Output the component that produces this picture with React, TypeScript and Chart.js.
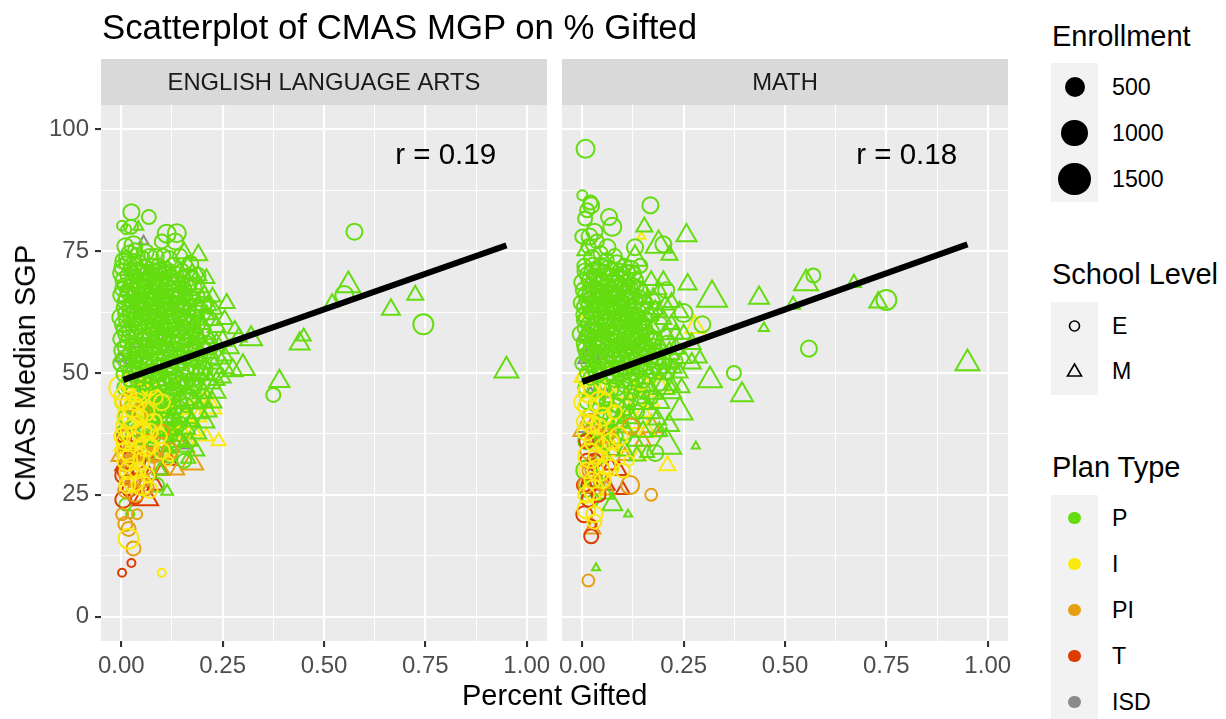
import React, { useEffect, useRef } from "react";
import { Chart, registerables } from "chart.js";

Chart.register(...registerables);

type Row = number[]; // [percent gifted, median SGP, enrollment]

const xTicks = [0, 0.125, 0.25, 0.375, 0.5, 0.625, 0.75, 0.875, 1];
const yTicks = [0, 12.5, 25, 37.5, 50, 62.5, 75, 87.5, 100];
const xMajor = [0, 0.25, 0.5, 0.75, 1];
const yMajor = [0, 25, 50, 75, 100];
const panelNames = ["ENGLISH LANGUAGE ARTS", "MATH"];
const correlations = ["r = 0.19", "r = 0.18"];
const enrollmentLegend = [500, 1000, 1500];
const planNames = ["P", "I", "PI", "T", "ISD"];
const elaFit = [[0.005, 48.6], [0.95, 76.2]];
const mathFit = [[0, 48.2], [0.95, 76.4]];

const elaGreenCircHigh: Row[] = [
[.025,83,300],[.068,82,220],[.002,80.2,100],[.024,80,220],[.012,79.5,100],[.112,78.6,390],[.137,78.7,390],[.1,77,220],[.133,77,300],[.01,76,300],[.03,76.2,390],[.034,75.2,220],[.02,74.5,300],[.06,74.8,300],[.07,73.6,390],[.104,74,220],[.118,73.4,300],[.145,74,220],[.17,72.4,300],[.005,73,300],
[.012,72.5,220],[.028,72,390],[.045,72.8,220],[.058,71.6,300],[.078,72,220],[.092,71.8,300],[.11,71.4,220],[.128,72,300],[.15,71,220],[.188,70,300],[.165,69.6,390],[.002,70.5,390],[.018,70,300],[.036,69.8,220],[.05,70.4,300],[.066,69.4,220],[.085,69.8,390],[.1,69.2,220],[.12,69.6,300],[.138,68.8,300],
[.178,67.6,300],[.155,67.4,220],[.008,68,220],[.025,67.6,300],[.042,67.2,220],[.058,67.8,300],[.074,67,300],[.092,67.4,220],[.108,66.8,300],[.128,66.6,220],[.146,66,390],[.168,65.4,300],[.188,65.8,220],[0,66,300],[.016,65.4,390],[.032,65.8,220],[.048,65,300],[.064,65.2,220],[.082,64.8,300],[.098,65,220],
[.118,64.4,300],[.136,64,300],[.156,63.6,220],[.178,63.4,390],[.202,64,300],[.006,63.4,220],[.022,63,300],[.04,63.2,220],[.056,62.8,300],[.072,62.6,220],[.09,62.4,300],[.106,62.6,220],[.126,62,300],[.146,61.8,220],[.166,61.4,300],[.188,61,220],[0,61.4,390],[.014,61,300],[.03,60.8,220],[.046,60.6,300],
[.062,60.4,220],[.08,60.2,300],[.098,60,220],[.114,60.4,300],[.134,59.6,300],[.154,59.4,220],[.176,59,300],[.198,58.8,390],[.006,59,220],[.022,58.6,300],[.038,58.4,220],[.054,58.2,300],[.07,58,220],[.088,57.8,300],[.106,57.6,220],[.124,57.4,300],[.144,57,390],[.164,56.8,220],[.186,56.6,300],[.21,56,300],
[0,57,300],[.014,56.4,220],[.03,56,300],[.046,55.8,220],[.062,55.6,300],[.08,55.2,220],[.096,55.4,300],[.114,55,220],[.132,54.8,300],[.152,54.4,220],[.174,54.2,300],[.196,53.8,220],[.005,54.6,390],[.022,54,220],[.038,53.6,300],[.054,53.4,220],[.072,53,300],[.09,52.8,220],[.106,52.6,300],[.124,52.4,220],
[.142,52,300],[.162,51.6,390],[.184,51.2,300],[.208,50.8,220],[.232,50,300],[0,52,300],[.014,51.6,220],[.03,51,220],[.046,50.8,300],[.064,50.4,220],[.082,50.2,300],[.098,49.8,220],[.116,49.6,300],[.134,49.2,220],[.154,49,300],[.176,48.6,220],[.2,48.2,300],[.022,48.8,300],[.04,48.4,220],[.056,48.2,300],
[.074,48,220],[.09,48.6,300],[.108,48,220],[.126,48.2,300],[.012,73.6,220],[.038,74,300],[.052,73.6,220],[.085,73.8,300],[.035,70.8,390],[.072,70,300],[.105,70.6,220],[.045,68,300],[.083,68.4,220],[.115,67.8,300],[.15,68.4,220],[.015,67,220],[.065,66.2,300],[.095,66,220],[.135,65.2,220],[.04,64.4,300],
[.075,63.8,220],[.115,63,220],[.055,63.6,220],[.095,63.4,300],[.15,62.6,300],[.02,62,220],[.055,61.4,300],[.085,61,220],[.125,60.8,220],[.16,60.2,300],[.04,59.6,300],[.078,59,220],[.112,58.8,220],[.145,58.6,220],[.012,58,300],[.05,57,220],[.09,56.6,220],[.128,56,300],[.17,57.6,220],[.035,55,220],
[.07,54.6,220],[.105,54,220],[.145,53.4,220],[.055,52,300],[.095,51.4,300],[.125,51,220],[.17,50.4,300],[.038,49.6,300],[.075,49.2,220],[.145,47.8,300],[.19,46.8,300],
[.003,71.7,300],[.022,71.2,220],[.041,71,300],[.064,70.7,220],[.082,70.9,300],[.096,70.3,220],[.117,70.8,220],[.134,70.2,300],[.152,69.5,220],[.008,69,390],[.027,68.8,300],[.054,68.9,220],[.077,68.7,220],[.094,68.3,300],[.109,68,220],[.127,68.2,220],[.143,67.3,300],[.164,67.9,220],[.002,67.2,220],[.019,66.5,300],
[.036,66.7,300],[.053,66.4,220],[.07,66,220],[.088,66.3,300],[.103,65.8,220],[.122,65.6,300],[.14,65.4,220],[.159,65.9,220],[.178,65.3,220],[.008,64.6,220],[.026,64.6,220],[.044,64.2,220],[.061,64.4,220],[.079,64.1,220],[.105,64,300],[.125,63.4,220],[.145,63.1,300],[.165,62.9,220],[.188,62.4,220],[.012,62.2,300],
[.03,62.3,220],[.048,62,300],[.066,61.7,300],[.1,61.6,220],[.118,61.4,220],[.137,61,300],[.155,61.2,220],[.178,60.5,220],[.004,60,300],[.024,60,220],[.05,59.8,220],[.068,59.4,300],[.09,59.2,220],[.106,59.3,300],[.128,58.9,220],[.16,58.4,220],[.185,58,220],[.018,57.4,220],[.034,57.4,220],[.06,56.9,300],
[.078,56.5,220],[.102,56.3,300],[.116,56.7,220],[.138,55.9,220],[.158,55.6,300],[.18,55.4,220],[.202,55,220],[.008,55.4,220],[.042,54.8,300],[.06,54.6,220],[.085,54.2,300],[.122,53.9,220],[.135,53.4,300],[.16,53,220],[.18,52.8,300],[.008,53,300],[.028,52.6,300],[.046,52.2,220],[.065,51.8,220],[.08,51.6,300],
[.115,51.2,300],[.15,50.6,220],[.195,50,300],[.008,49.8,300],[.02,50.2,220],[.06,49.5,300],[.09,49.6,220],[.105,49,300],[.12,48.6,220],[.16,47.8,220],[.178,47,300],[.035,52.4,220],[.11,57.2,220],[.068,62,220],[.092,63.6,220],[.072,65,220],[.11,66,220],[.06,69,220],[.044,66,220],[.1,58,220]
];
const elaGreenCircLow: Row[] = [
[.01,47,300],[.028,46,220],[.045,45.4,300],[.064,46.4,220],[.085,45.6,300],[.104,46,220],[.125,45.2,300],[.145,44.6,220],[.168,45,300],[.375,45.5,220],[.005,44,300],[.025,43,220],[.05,42.6,300],[.075,43.4,220],[.098,42.4,300],[.12,42.8,220],[.15,41.6,300],[.01,41,220],[.035,40,300],[.06,39.8,220],
[.085,40.6,220],[.11,39.4,300],[.135,38.6,220],[.007,38,220],[.03,37,300],[.055,36.6,220],[.08,37,220],[.105,36,220],[.13,35,220],[.045,34,300],[.07,33.6,220],[.155,32,220],[.088,27,220],[.01,23,150],[.022,21,60],[.575,79,300],[.55,66,390],[.745,60,500],[.022,33,220],[.12,33,220],
[.018,47.4,300],[.055,47,220],[.072,45.2,300],[.095,47.2,220],[.115,44,300],[.135,46.6,220],[.16,43.4,220],[.038,44,300],[.062,44,220],[.09,44,220],[.108,41,300],[.128,40.4,220],[.145,39.6,220],[.04,38.4,220],[.07,38.6,220],[.095,38.4,220],[.12,37,220],[.14,36.4,220],[.11,47.6,300],[.13,43,300]
];
const elaGreenTriHigh: Row[] = [
[.042,80,100],[.155,74.6,390],[.19,74.2,390],[.165,72,300],[.19,70,300],[.21,69.4,300],[.17,68,220],[.205,66,300],[.225,65.6,300],[.26,64.3,300],[.23,63,220],[.21,62,300],[.255,61,300],[.235,59.5,390],[.28,59,220],[.32,57,620],[.29,57.4,300],[.25,56.6,390],[.22,57,220],[.27,55,300],[.44,56,500],[.45,57.5,220],[.3,51,760],[.275,50.5,500],[.24,53,390],[.255,51,390],[.22,54,300],[.39,48.3,500],[.56,68,760],[.52,64.5,220],[.665,63,390],[.725,66,300],[.95,50.5,760],[.2,52,390],[.18,55,300],[.235,48.5,300],[.21,49.5,300],[.12,60,300],[.15,64,300],
[.175,70.5,300],[.195,67.5,300],[.215,63.8,300],[.19,64,390],[.2,60,300],[.225,60.8,300],[.21,58,390],[.195,57,300],[.235,56.2,300],[.205,55,390],[.255,53.5,300],[.225,52,390],[.19,50,390],[.175,52.5,300],[.22,48,500],[.25,49,300],[.16,57,390],[.18,59.5,300],[.14,52,300]
];
const elaGreenTriLow: Row[] = [
[.2,46,500],[.225,44,390],[.17,47,500],[.145,44,620],[.19,42,620],[.215,42,300],[.175,40,300],[.16,38.6,390],[.13,40.6,500],[.19,37.5,300],[.17,36,300],[.14,36,500],[.1,38,300],[.113,25.7,150],[.095,30,220],[.07,41,390],
[.235,46,390],[.205,40,500],[.18,44,620],[.15,47,500],[.12,46,620],[.1,43,500],[.16,41,620],[.185,34,300],[.155,35,500],[.12,35,390],[.08,44,500],[.205,44,300],[.14,48,500],[.165,32.4,220],[.11,41,390]
];
const elaGrey: Row[] = [
[.07,66,100],[.065,62.5,100],[.04,56,100],[-.002,53,100],[.06,53.5,100],[.02,52.6,100],[.055,77,100],[.075,51,100],[.16,35,60],[.04,48,100]
];
const elaYellow: Row[] = [
[.0,47,760],[.01,45,620],[.03,43,500],[.02,41,760],[.005,44,300],[.05,46,500],[.07,47,300],[.1,44,300],[.035,46.6,760],[.002,37,300],[.028,38,760],[.05,38,500],[.03,33,620],[.015,32,500],[.08,40,300],[.1,34,300],[.06,35,500],[.03,28,620],[.015,27,300],[.05,27,500],[.07,26,300],[.05,32,300],[.028,41,620],[.018,16,500],[.1,9,60],[.01,36,390],[.02,48,390],[.045,41,300],[.075,35,220],[.095,37,220],[.115,32,100],
[.012,39,500],[.04,44,390],[.06,42,390],[.07,38,300],[.085,45,220],[.012,34,390],[.035,36,390],[.04,30,300],[.018,30,390],[.065,29,220]
];
const elaYellowTri: Row[] = [
[.03,48,500],[.002,35,300],[.13,43,760],[.16,40,500],[.22,43,620],[.19,45,300],[.21,37,220],[.24,36,220],[.085,42,500],[.11,38,300],[.065,36,300],[.12,33,220],[.16,36,300],[.18,38,220],[.09,46,300],[.05,44,300],[.15,48,300],
[.205,44,500],[.19,41,300],[.145,38,620],[.125,40,500],[.1,36,390],[.15,44,300],[.105,44,390],[.07,40,300]
];
const elaOrange: Row[] = [
[.03,41,760],[.05,42,300],[.02,37,300],[.04,34,500],[.01,33,300],[.03,31,620],[.06,31,390],[.04,30,300],[.02,29,500],[.05,28,300],[.012,26,300],[.035,25.4,390],[.002,21,150],[.039,21,100],[.01,19,220],[.018,18,220],[.03,14,220],[.02,44,390],[.08,33,220],[.07,36,220],[.12,34,300],[.1,38,220],[.06,26.5,300]
];
const elaOrangeTri: Row[] = [
[.175,31.5,620],[.138,30,220],[.11,33,220],[.14,37,300],[.08,33,300],[-.002,33,390],[.02,35,300],[.12,38,300],[.1,30,300],[.06,34,300],[.17,36,220]
];
const elaRed: Row[] = [
[.007,37,220],[.025,33,300],[.01,30,300],[.03,28,220],[.005,29,300],[.02,26,220],[.005,24,300],[.025,11,60],[.002,9,60],[.04,32,300],[.015,35,220],[.035,24.6,220]
];
const elaRedTri: Row[] = [
[.059,24.4,920],[.084,27,300],[.09,33,220],[.1,30,220],[.045,36,220],[.03,30,300],[.07,29,220],[.12,32,220],[.005,31,300]
];

const mathGreenCircHigh: Row[] = [
[.008,96,390],[0,86.5,100],[.02,85,220],[.022,84.4,300],[.168,84.4,300],[.012,83.4,220],[.066,82,300],[.074,80,390],[.007,81.7,220],[.03,79,300],[0,78,220],[.018,78,300],[.062,75.8,300],[.13,75.8,300],[.036,77,220],[.015,76,220],[.08,74,220],[.045,74.6,220],[.2,76.4,300],[.143,72,220],
[.105,72,220],[.085,72.5,300],[.065,71.5,300],[.045,72,300],[.025,72.2,220],[.005,72,220],[.12,71.4,300],[.014,70.2,300],[.034,70,220],[.054,69.8,300],[.074,70,220],[.094,69.6,300],[.112,69.2,220],[.13,69,300],[.57,70,220],[0,68.6,300],[.022,68,220],[.042,68.2,300],[.062,67.8,220],[.082,67.6,300],
[.1,67.4,220],[.12,67,300],[.14,67,300],[.207,67,300],[.01,66.2,300],[.03,66,220],[.05,65.8,300],[.07,65.6,220],[.09,65.4,300],[.11,65.2,220],[.13,64.8,300],[.15,64.4,300],[-.004,64.4,220],[.018,64,300],[.038,63.8,220],[.058,63.6,300],[.078,63.4,220],[.098,63.2,300],[.118,63,220],[.14,62.6,220],
[.17,62,220],[.25,62.3,390],[.005,62,300],[.026,61.8,220],[.046,61.6,300],[.066,61.4,220],[.086,61.2,300],[.106,61,220],[.126,60.8,300],[.148,60.4,220],[.296,60,300],[.19,60,300],[.014,60,220],[.034,59.8,300],[.054,59.6,220],[.074,59.4,300],[.094,59,220],[.114,58.8,300],[.134,58.6,220],[.16,58,220],
[-.004,58,300],[.022,57.6,220],[.042,57.4,300],[.062,57.2,220],[.082,57,300],[.102,56.8,220],[.122,56.6,300],[.144,56.2,220],[.18,57,220],[.21,56,300],[.006,56,300],[.03,55.6,220],[.05,55.4,300],[.07,55.2,220],[.09,55,300],[.11,54.6,220],[.13,54.4,300],[.16,54,300],[.19,54.6,220],[.559,55,300],
[.016,54,220],[.04,53.6,300],[.06,53.4,220],[.08,53,300],[.1,52.8,220],[.12,52.4,220],[.145,52,300],[.23,52.5,220],[.2,51.6,300],[0,52,220],[.026,51.6,220],[.05,51.2,300],[.07,51,220],[.09,50.8,300],[.11,50.4,220],[.13,50.2,300],[.17,50.6,300],[.21,50,220],[.012,50,220],[.036,49.6,300],
[.06,49.2,220],[.08,48.8,300],[.1,48.4,220],[.12,48.2,300],[.15,48.4,220],[.19,48,300],[.024,73.6,300],[.06,73.2,220],[.1,70.4,220],[.025,71,300],[.015,69,220],[.045,69.2,220],[.085,68.6,220],[.125,68,220],[.035,67,220],[.075,66.6,220],[.105,66.2,300],[.02,65.2,220],[.06,64.8,220],[.1,64.4,220],
[.042,63,300],[.085,62.6,300],[.125,62.2,220],[.02,62.4,220],[.06,60.6,220],[.1,60,300],[.14,59.8,220],[.03,58.6,220],[.07,58.4,300],[.105,58,220],[.015,57,220],[.052,56.4,300],[.095,56,220],[.135,55.4,220],[.02,55,220],[.07,54,300],[.11,53.6,220],[.04,52.4,300],[.09,52,220],[.14,50.8,300],
[.03,50.6,220],[.07,50,220],[.155,53.2,300],[.01,53.8,220],[.75,65,500],[.004,60.8,220],[.052,70.8,220],[.092,71,220],[.07,63,220],[.11,62,220],
[.008,70.9,300],[.036,71.4,220],[.072,71.2,220],[.11,70.6,300],[.128,70.3,220],[.004,67,300],[.028,69.2,220],[.05,68.4,300],[.072,68.9,220],[.095,68.2,220],[.112,67.8,220],[.134,67.6,220],[.018,66.8,220],[.042,66.9,220],[.064,66.4,300],[.086,66.2,220],[.122,65.8,300],[.14,65.6,220],[.012,65,300],[.034,64.9,220],
[.05,64.5,220],[.07,64.3,300],[.088,64.2,220],[.11,63.9,300],[.128,63.6,220],[.004,63.6,220],[.028,63,220],[.052,62.6,220],[.095,62.2,220],[.115,61.9,300],[.135,61.6,220],[.155,61.3,220],[.012,61.2,300],[.036,61,220],[.056,60.7,300],[.078,60.6,220],[.092,60.5,300],[.118,60,220],[.13,59.6,220],[.155,59.2,220],
[.006,59.2,220],[.02,58.8,300],[.046,58.8,220],[.062,58.6,220],[.085,58.2,300],[.122,58,220],[.145,57.6,300],[.168,57.2,220],[.01,57.6,220],[.034,57,300],[.074,56.8,220],[.112,56.3,300],[.128,56.9,220],[.155,56,220],[.175,55.4,300],[.04,55.2,220],[.062,55.8,220],[.084,55.6,220],[.102,55,300],[.12,55.4,220],
[.148,54.8,220],[.006,55,220],[.028,53.2,300],[.05,53,220],[.09,53.6,220],[.13,53,220],[.17,52.6,220],[.015,52,220],[.062,52,220],[.104,51.4,300],[.125,51.2,220],[.155,51,220],[.19,50.2,220],[.042,50.4,220],[.095,49.8,300],[.115,49.4,220],[.135,49,300],[.165,49.2,220],[.02,49,220],[.075,49.4,220]
];
const mathGreenCircLow: Row[] = [
[.01,47,300],[.03,46.4,220],[.05,47,300],[.072,46.6,220],[.095,46,300],[.12,46,220],[.145,45.4,300],[.17,45,220],[.374,50,220],[.012,44,220],[.035,43.6,300],[.06,44,220],[.085,43.4,220],[.11,43,300],[.135,42,220],[.02,41,300],[.045,41,220],[.07,40.6,300],[.095,40,220],[.12,39,300],[.18,33.6,300],[.01,36,300],[.03,35.4,220],[.055,36,220],[.08,37,300],[.01,30,500],[.03,28,300],[.02,24,300],[.01,26,220],[.05,33,220],
[.02,47.4,220],[.04,45,220],[.062,45.4,220],[.085,47,300],[.105,47.4,220],[.13,47,220],[.15,46.4,220],[.075,42.4,220],[.1,41.6,220],[.12,44.4,220],[.055,42,220],[.035,38.6,220],[.07,38,220],[.105,37.6,220]
];
const mathGreenTriHigh: Row[] = [
[.153,80,300],[.188,76.2,900],[.257,78.2,500],[.215,74.2,300],[.13,73.4,760],[.26,68.2,390],[.32,65.4,1300],[.2,69,300],[.436,65.4,500],[.17,69,300],[.19,67,220],[.22,64.5,300],[.24,62.5,390],[.16,65,220],[.18,63,300],[.2,61,300],[.22,60,300],[.25,58,300],[.27,56,390],[.23,55,390],[.25,53,300],[.27,52,390],[.21,52,390],[.24,50,300],[.19,56,300],[.552,68.4,760],[.52,64,220],[.67,68.5,220],[.73,64.5,390],[.95,52,760],[.448,59.2,100],[.005,75,220],[.29,53,220],
[.15,67,300],[.175,65.5,300],[.205,64,300],[.165,62,390],[.19,62.5,300],[.175,59,300],[.205,58,390],[.23,58,300],[.215,54,500],[.185,53,500],[.2,50,500],[.17,54,390],[.225,51,300],[.15,51,500],[.16,56,390],[.145,60,300]
];
const mathGreenTriLow: Row[] = [
[.315,48.5,760],[.394,45.5,620],[.24,42,920],[.214,39.3,500],[.207,35.2,1300],[.28,35,60],[.22,46,500],[.19,44,500],[.165,42,620],[.15,38,390],[.19,38,300],[.13,36,300],[.16,33.6,220],[.113,21,60],[.074,23,500],[.034,10,60],[.105,34,300],[.22,47.5,300],[.06,25,220],
[.2,47,620],[.17,46,620],[.145,44,760],[.115,41,620],[.185,40.5,390],[.135,33,300],[.245,47,300],[.09,40,500],[.16,47.5,500]
];
const mathGrey: Row[] = [
[.012,58,500],[.01,53,300],[.03,55,100],[.19,37.6,100],[.03,53.5,100],[-.002,38.5,100],[.02,46,100],[.06,45.6,100]
];
const mathYellow: Row[] = [
[.01,49,390],[.03,47,620],[.015,43,500],[.045,44,620],[.01,38,390],[.03,36,500],[.02,33,760],[.04,30,620],[.06,31,390],[.025,28,300],[.05,28,300],[.028,26,500],[.01,25,300],[.03,21,300],[.01,22,390],[.03,19.5,220],[.115,32,100],[.09,37,390],[.1,30,220],[.08,42,220],[.006,40,300],[.035,33,300],[.05,35,220],[.145,48,220],[.07,30.6,300],[.022,39.5,390],[.06,47,220],
[.015,46,500],[.05,41,390],[.002,44,390],[.07,36,300],[.04,39,300],[.012,30,300]
];
const mathYellowTri: Row[] = [
[.146,78,60],[.278,59.4,500],[.008,62,100],[-.002,49,220],[.02,50,220],[.08,41,500],[.12,40,620],[.16,38,390],[.14,33,220],[.21,31,300],[.19,47,620],[.17,44,300],[.055,38,300],[.08,34,300],[.03,36,300],[.11,43,300],[.04,26,300],[.05,52,220],
[.095,46,390],[.13,46,300],[.065,44,300],[.1,35,300],[.15,42,300],[.05,33,220]
];
const mathOrange: Row[] = [
[.118,27,390],[.17,25,150],[.015,7.4,150],[.015,34,300],[.03,30,390],[.02,30,300],[.05,27.6,300],[.01,27,300],[.035,37,300],[.06,37,220],[.02,40,300],[.12,39,300]
];
const mathOrangeTri: Row[] = [
[.025,18,300],[-.002,38,300],[.03,40,300],[.1,39,500],[.15,36,300],[.17,39,500],[.08,36,220],[.06,26,300],[.02,36,300],[.105,33,220]
];
const mathRed: Row[] = [
[.012,32,220],[.02,28,220],[.005,21,300],[.025,19,60],[.022,16.5,220],[.01,36,220],[.018,27,300],[.004,27,220],[.04,25,220],[.015,24,220],[.03,32,220]
];
const mathRedTri: Row[] = [
[.09,30,300],[.06,27,300],[.04,33,220],[.05,37,300],[.075,34,220],[.1,26,220],[.02,29,220],[.07,31,220]
];

const GREEN = "#64DC0F";
const YELLOW = "#FAE90E";
const ORANGE = "#E69F12";
const RED = "#DE3B00";
const GREY = "#8A8A8A";
const planColors = [GREEN, YELLOW, ORANGE, RED, GREY];
const FONT = '"Liberation Sans", Arial, sans-serif';

const radiusOf = (e: number) => 10 * Math.pow(e / 500, 0.43);

function series(rows: Row[], color: string, shape: string) {
  const tri = shape === "triangle";
  return {
    data: rows.map((r) => ({ x: r[0], y: r[1], e: r[2] })),
    showLine: false,
    pointStyle: shape,
    backgroundColor: "rgba(0,0,0,0)",
    borderColor: color,
    pointBorderWidth: 2,
    pointRadius: (c: any) => radiusOf(c.raw ? c.raw.e : 300) * (tri ? 1.15 : 1),
  };
}

const panelPlugin = {
  id: "panel",
  beforeDraw(chart: any, _a: any, o: any) {
    const { ctx, chartArea: a } = chart;
    ctx.save();
    ctx.fillStyle = "#EBEBEB";
    ctx.fillRect(a.left, a.top, a.right - a.left, a.bottom - a.top);
    ctx.fillStyle = "#D9D9D9";
    ctx.fillRect(a.left, 59, a.right - a.left, a.top - 59);
    ctx.fillStyle = "#1A1A1A";
    ctx.font = "23.8px " + FONT;
    ctx.textAlign = "center";
    ctx.textBaseline = "middle";
    ctx.fillText(o.strip, (a.left + a.right) / 2, 83);
    ctx.restore();
  },
  afterDraw(chart: any, _a: any, o: any) {
    const { ctx, scales } = chart;
    ctx.save();
    ctx.fillStyle = "#000";
    ctx.font = "29.5px " + FONT;
    ctx.textAlign = "center";
    ctx.textBaseline = "middle";
    ctx.fillText(o.r, scales.x.getPixelForValue(0.8), scales.y.getPixelForValue(94.5));
    ctx.restore();
  },
};

const noOverhang = (a: any) => {
  a.paddingLeft = 0;
  a.paddingRight = 0;
  a.paddingTop = 0;
  a.paddingBottom = 0;
};

function makeChart(canvas: HTMLCanvasElement, idx: number) {
  const layers =
    idx === 0
      ? [
          series(elaGrey, GREY, "triangle"),
          series(elaRedTri, RED, "triangle"),
          series(elaOrangeTri, ORANGE, "triangle"),
          series(elaYellowTri, YELLOW, "triangle"),
          series(elaGreenCircLow, GREEN, "circle"),
          series(elaGreenTriLow, GREEN, "triangle"),
          series(elaRed, RED, "circle"),
          series(elaOrange, ORANGE, "circle"),
          series(elaYellow, YELLOW, "circle"),
          series(elaGreenTriHigh, GREEN, "triangle"),
          series(elaGreenCircHigh, GREEN, "circle"),
        ]
      : [
          series(mathGrey, GREY, "triangle"),
          series(mathRedTri, RED, "triangle"),
          series(mathOrangeTri, ORANGE, "triangle"),
          series(mathYellowTri, YELLOW, "triangle"),
          series(mathGreenCircLow, GREEN, "circle"),
          series(mathGreenTriLow, GREEN, "triangle"),
          series(mathRed, RED, "circle"),
          series(mathOrange, ORANGE, "circle"),
          series(mathYellow, YELLOW, "circle"),
          series(mathGreenTriHigh, GREEN, "triangle"),
          series(mathGreenCircHigh, GREEN, "circle"),
        ];
  const fit = idx === 0 ? elaFit : mathFit;
  // Chart.js paints the first dataset last, so the list is reversed after the fit line.
  const datasets: any[] = [
    {
      data: fit.map((p) => ({ x: p[0], y: p[1] })),
      showLine: true,
      borderColor: "#000",
      borderWidth: 6.2,
      pointRadius: 0,
      fill: false,
    },
    ...layers.slice().reverse(),
  ];
  const grid = (major: number[]) => ({
    color: "#FFFFFF",
    lineWidth: (c: any) => (major.includes(c.tick?.value) ? 2.1 : 1.05),
    tickLength: 6,
    tickColor: (c: any) => (major.includes(c.tick?.value) ? "#333333" : "rgba(0,0,0,0)"),
    tickWidth: 2.1,
  });
  return new Chart(canvas, {
    type: "scatter",
    data: { datasets },
    plugins: [panelPlugin as any],
    options: {
      animation: false,
      responsive: false,
      layout: {
        autoPadding: false,
        padding: { top: 105, left: idx === 0 ? 0 : 8, right: idx === 0 ? 7 : 8, bottom: 0 },
      },
      plugins: {
        legend: { display: false },
        tooltip: { enabled: false },
        panel: { strip: panelNames[idx], r: correlations[idx] },
      } as any,
      scales: {
        x: {
          type: "linear",
          min: -0.05,
          max: 1.05,
          afterBuildTicks: (a: any) => { a.ticks = xTicks.map((value) => ({ value })); },
          afterFit: (a: any) => { a.height = 78; noOverhang(a); },
          border: { display: false },
          grid: grid(xMajor),
          ticks: {
            autoSkip: false,
            maxRotation: 0,
            padding: 5,
            color: "#4D4D4D",
            font: { family: FONT, size: 24 },
            callback: (v: any) => (xMajor.includes(v) ? Number(v).toFixed(2) : ""),
          },
        },
        y: {
          type: "linear",
          min: -5,
          max: 105,
          afterBuildTicks: (a: any) => { a.ticks = yTicks.map((value) => ({ value })); },
          afterFit: (a: any) => { a.width = idx === 0 ? 101 : 0; noOverhang(a); },
          border: { display: false },
          grid: { ...grid(yMajor), drawTicks: idx === 0 },
          ticks: {
            display: idx === 0,
            autoSkip: false,
            padding: 6,
            color: "#4D4D4D",
            font: { family: FONT, size: 24 },
            callback: (v: any) => (yMajor.includes(v) ? String(v) : ""),
          },
        },
      },
    },
  } as any);
}

const abs = (left: number, top: number, extra: React.CSSProperties = {}): React.CSSProperties => ({
  position: "absolute",
  left,
  top,
  fontFamily: FONT,
  whiteSpace: "nowrap",
  ...extra,
});

function Label({ x, y, size, children, color = "#000" }: any) {
  return (
    <div style={abs(x, y - size * 0.75, { fontSize: size, lineHeight: `${size * 1.5}px`, color })}>{children}</div>
  );
}

function KeyBox({ y, h }: { y: number; h: number }) {
  return <div style={abs(1051, y, { width: 47, height: h, background: "#F2F2F2" })} />;
}

function Dot({ y, r, fill }: { y: number; r: number; fill: string }) {
  return <div style={abs(1074.5 - r, y - r, { width: 2 * r, height: 2 * r, borderRadius: "50%", background: fill })} />;
}

export default function App() {
  const a = useRef<HTMLCanvasElement>(null);
  const b = useRef<HTMLCanvasElement>(null);
  useEffect(() => {
    const c1 = makeChart(a.current!, 0);
    const c2 = makeChart(b.current!, 1);
    return () => {
      c1.destroy();
      c2.destroy();
    };
  }, []);
  return (
    <div style={{ position: "absolute", left: 0, top: 0, width: 1226, height: 719, overflow: "hidden", background: "#fff" }}>
      <canvas ref={a} width={554} height={719} style={{ position: "absolute", left: 0, top: 0 }} />
      <canvas ref={b} width={462} height={719} style={{ position: "absolute", left: 554, top: 0 }} />
      <Label x={102} y={27} size={34.8}>Scatterplot of CMAS MGP on % Gifted</Label>
      <Label x={462} y={696} size={29}>Percent Gifted</Label>
      <div
        style={abs(25, 373, {
          fontSize: 29,
          lineHeight: "36px",
          transform: "translate(-50%,-50%) rotate(-90deg)",
        })}
      >
        CMAS Median SGP
      </div>

      <Label x={1052} y={37} size={29}>Enrollment</Label>
      <KeyBox y={63} h={139} />
      {enrollmentLegend.map((v, i) => (
        <React.Fragment key={v}>
          <Dot y={87 + i * 46} r={radiusOf(v)} fill="#000" />
          <Label x={1112} y={87 + i * 46} size={23.2}>{v}</Label>
        </React.Fragment>
      ))}

      <Label x={1052} y={275} size={29}>School Level</Label>
      <KeyBox y={302} h={93} />
      <svg width={47} height={93} style={{ position: "absolute", left: 1051, top: 302 }}>
        <circle cx={23.5} cy={24} r={5} fill="none" stroke="#000" strokeWidth={1.6} />
        <polygon points="23.5,62 30.5,74 16.5,74" fill="none" stroke="#000" strokeWidth={1.6} />
      </svg>
      <Label x={1112} y={326} size={23.2}>E</Label>
      <Label x={1112} y={371} size={23.2}>M</Label>

      <Label x={1052} y={468} size={29}>Plan Type</Label>
      <KeyBox y={495} h={224} />
      {planNames.map((n, i) => (
        <React.Fragment key={n}>
          <Dot y={518 + i * 46} r={6.2} fill={planColors[i]} />
          <Label x={1112} y={518 + i * 46} size={23.2}>{n}</Label>
        </React.Fragment>
      ))}
    </div>
  );
}
